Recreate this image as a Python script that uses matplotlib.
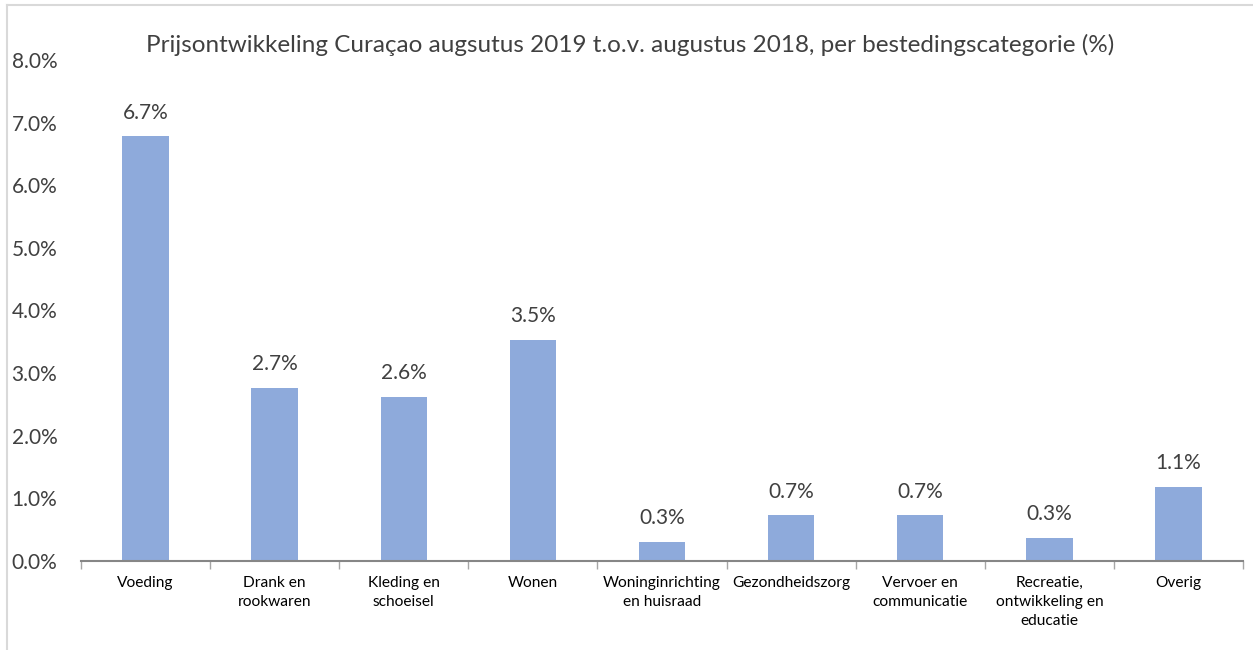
import numpy as np
import matplotlib.pyplot as plt
from matplotlib.lines import Line2D

plt.rcParams['font.family'] = ['Lato', 'DejaVu Sans']

categories = ['Voeding', 'Drank en\nrookwaren', 'Kleding en\nschoeisel', 'Wonen',
              'Woninginrichting\nen huisraad', 'Gezondheidszorg', 'Vervoer en\ncommunicatie',
              'Recreatie,\nontwikkeling en\neducatie', 'Overig']
values = [6.78, 2.76, 2.62, 3.53, 0.30, 0.73, 0.73, 0.37, 1.18]
labels = ['6.7%', '2.7%', '2.6%', '3.5%', '0.3%', '0.7%', '0.7%', '0.3%', '1.1%']
yticks = [0, 1, 2, 3, 4, 5, 6, 7, 8]

W, H = 1253, 650
fig = plt.figure(figsize=(W / 100, H / 100), dpi=100)
ax = fig.add_axes([81 / W, 1 - 561 / H, (1243 - 81) / W, (561 - 60) / H])

x = np.arange(len(categories))
ax.bar(x, values, width=0.36, color='#8eaadb', zorder=2)
for xi, v, lab in zip(x, values, labels):
    ax.text(xi, v + 0.22, lab, ha='center', va='bottom', fontsize=15, color='#404040')

ax.set_xlim(-0.5, len(categories) - 0.5)
ax.set_ylim(0, 8)
ax.set_yticks(yticks)
ax.set_yticklabels([f'{t:.1f}%' for t in yticks], fontsize=15, color='#404040')
ax.tick_params(axis='y', length=0, pad=17)

ax.set_xticks(x)
ax.set_xticklabels(categories, fontsize=11.2, color='#000000', linespacing=1.45, va='top')
ax.set_xticks(np.arange(len(categories) + 1) - 0.5, minor=True)
ax.tick_params(axis='x', which='major', length=0, pad=11)
ax.tick_params(axis='x', which='minor', length=6, width=1, color='#a6a6a6', direction='out')

for s in ['top', 'right', 'left']:
    ax.spines[s].set_visible(False)
ax.spines['bottom'].set_color('#868686')
ax.spines['bottom'].set_linewidth(1.5)

fig.text(630 / W, 1 - 45 / H, 'Prijsontwikkeling Curaçao augsutus 2019 t.o.v. augustus 2018, per bestedingscategorie (%)',
         ha='center', va='center', fontsize=17.5, color='#404040')

# chart area border (partially visible)
fig.add_artist(Line2D([7 / W, 7 / W], [0, 1 - 5 / H], color='#d9d9d9', lw=1.5))
fig.add_artist(Line2D([7 / W, 1], [1 - 5 / H, 1 - 5 / H], color='#d9d9d9', lw=1.5))

fig.savefig('out.png', dpi=100)
